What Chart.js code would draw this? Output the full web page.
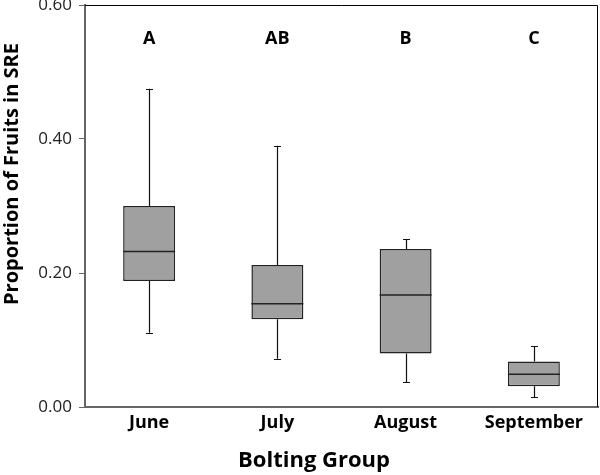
<!DOCTYPE html>
<html>
<head>
<meta charset="utf-8">
<script src="https://cdn.jsdelivr.net/npm/chart.js@4/dist/chart.umd.min.js"></script>
<style>
	html, body { margin: 0; padding: 0; background: #fff; }
	#wrap { width: 600px; height: 475px; }
</style>
</head>
<body>
<div id="wrap"><canvas id="boxChart"></canvas></div>
<script>
const groups = ["June", "July", "August", "September"];
const whiskerLow = [0.111, 0.072, 0.037, 0.015];
const q1 = [0.188, 0.131, 0.080, 0.031];
const medians = [0.232, 0.154, 0.167, 0.049];
const q3 = [0.300, 0.212, 0.236, 0.068];
const whiskerHigh = [0.475, 0.390, 0.250, 0.091];
const letters = ["A", "AB", "B", "C"];
const letterLevel = 0.55;
const yTicks = [0, 0.2, 0.4, 0.6];

const FONT = "'Open Sans', 'DejaVu Sans', sans-serif";

// whiskers, medians, letters and the frame are drawn from the same scales
const boxExtras = {
	id: "boxExtras",
	beforeDatasetsDraw(chart) {
		const { ctx, scales: { x, y } } = chart;
		ctx.save();
		ctx.strokeStyle = "#111";
		ctx.lineWidth = 1.2;
		groups.forEach((g, i) => {
			const cx = Math.round(x.getPixelForValue(i)) + 0.5;
			ctx.beginPath();
			ctx.moveTo(cx, y.getPixelForValue(q3[i]));
			ctx.lineTo(cx, y.getPixelForValue(whiskerHigh[i]));
			ctx.moveTo(cx, y.getPixelForValue(q1[i]));
			ctx.lineTo(cx, y.getPixelForValue(whiskerLow[i]));
			[whiskerHigh[i], whiskerLow[i]].forEach(v => {
				const py = Math.round(y.getPixelForValue(v)) + 0.5;
				ctx.moveTo(cx - 3.5, py);
				ctx.lineTo(cx + 3.5, py);
			});
			ctx.stroke();
		});
		ctx.restore();
	},
	afterDatasetsDraw(chart) {
		const { ctx, chartArea: a, scales: { x, y } } = chart;
		const meta = chart.getDatasetMeta(0);
		ctx.save();
		ctx.strokeStyle = "#222";
		ctx.lineWidth = 1.5;
		meta.data.forEach((bar, i) => {
			const half = bar.width / 2;
			const py = y.getPixelForValue(medians[i]);
			ctx.beginPath();
			ctx.moveTo(bar.x - half, py);
			ctx.lineTo(bar.x + half, py);
			ctx.stroke();
		});

		ctx.fillStyle = "#000";
		ctx.font = "bold 18px " + FONT;
		ctx.textAlign = "center";
		ctx.textBaseline = "middle";
		letters.forEach((t, i) => {
			ctx.fillText(t, x.getPixelForValue(i), y.getPixelForValue(letterLevel));
		});

		// frame top and right
		ctx.strokeStyle = "#000";
		ctx.lineWidth = 1;
		ctx.beginPath();
		ctx.moveTo(a.left, a.top + 0.5);
		ctx.lineTo(a.right - 0.5, a.top + 0.5);
		ctx.lineTo(a.right - 0.5, a.bottom);
		ctx.stroke();

		// axis titles
		ctx.font = "bold 22px " + FONT;
		ctx.fillText("Bolting Group", 314, 461);
		ctx.translate(12, 174);
		ctx.rotate(-Math.PI / 2);
		ctx.font = "bold 20px " + FONT;
		ctx.fillText("Proportion of Fruits in SRE", 0, 0);
		ctx.restore();
	}
};

new Chart(document.getElementById("boxChart"), {
	type: "bar",
	data: {
		labels: groups,
		datasets: [{
			data: groups.map((g, i) => [q1[i], q3[i]]),
			backgroundColor: "#a0a0a0",
			borderColor: "#222",
			borderWidth: 1.5,
			borderSkipped: false,
			barPercentage: 0.405,
			categoryPercentage: 1
		}]
	},
	options: {
		responsive: true,
		maintainAspectRatio: false,
		animation: false,
		layout: { padding: { top: 5, right: 2, left: 0, bottom: 0 } },
		plugins: { legend: { display: false }, tooltip: { enabled: false } },
		scales: {
			x: {
				afterFit(scale) { scale.height = 68; },
				grid: { display: false, drawTicks: false },
				border: { display: true, color: "#666", width: 2 },
				ticks: { color: "#000", padding: 5, font: { family: FONT, size: 18, weight: "bold" } }
			},
			y: {
				min: 0,
				max: 0.6,
				afterFit(scale) {
					scale.width = 85;
					// let the top label hang over the edge like the original
					scale.paddingTop = 0;
					scale.paddingBottom = 0;
				},
				afterBuildTicks(scale) { scale.ticks = yTicks.map(v => ({ value: v })); },
				grid: { drawOnChartArea: false, drawTicks: true, tickLength: 6, color: "#666" },
				border: { display: true, color: "#666", width: 2 },
				ticks: {
					color: "#222",
					padding: 7,
					font: { family: FONT, size: 17 },
					callback: v => Number(v).toFixed(2)
				}
			}
		}
	},
	plugins: [boxExtras]
});
</script>
</body>
</html>
